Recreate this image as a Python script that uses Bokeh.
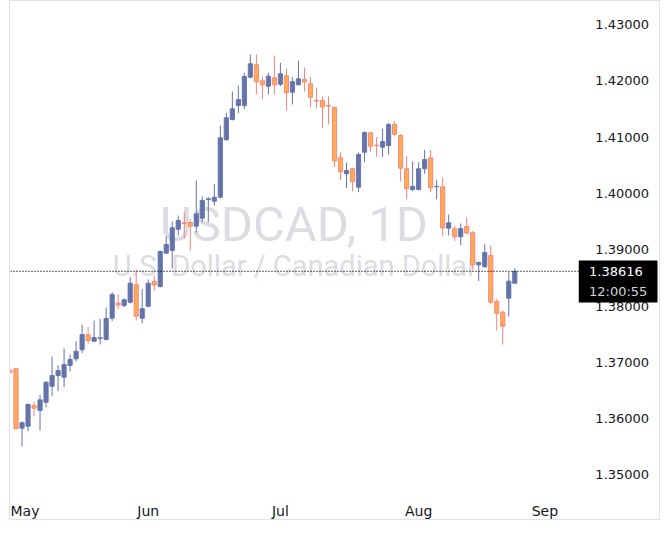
from bokeh.plotting import figure
from bokeh.models import ColumnDataSource, Label, BoxAnnotation, FixedTicker, PrintfTickFormatter
from bokeh.embed import file_html
from bokeh.resources import INLINE

# daily USDCAD candles, one per trading day
opens = [1.3686, 1.36884, 1.35828, 1.35863, 1.36231, 1.36142, 1.36290, 1.36574, 1.36764, 1.36734,
         1.36942, 1.37061, 1.37221, 1.37488, 1.37374, 1.37422, 1.37404, 1.37783, 1.38050, 1.38009,
         1.38068, 1.38379, 1.37783, 1.37995, 1.38436, 1.38347, 1.38939, 1.38987, 1.39365, 1.39479,
         1.39484, 1.39419, 1.39561, 1.39893, 1.39863, 1.39934, 1.40955, 1.41316, 1.41564, 1.41564,
         1.42068, 1.42288, 1.42004, 1.41908, 1.42057, 1.41943, 1.42092, 1.41801, 1.41932, 1.42027,
         1.41952, 1.41653, 1.41653, 1.41564, 1.41529, 1.40635, 1.40350, 1.40439, 1.40112, 1.40734,
         1.41079, 1.40859, 1.40823, 1.40853, 1.41227, 1.41031, 1.40439, 1.40071, 1.40071, 1.40439,
         1.40635, 1.40119, 1.40119, 1.39383, 1.39372, 1.39230, 1.39413, 1.39303, 1.38732, 1.38697,
         1.38898, 1.38080, 1.37890, 1.38139, 1.38405]
highs = [1.3690, 1.36890, 1.35947, 1.36267, 1.36302, 1.36421, 1.36658, 1.37102, 1.36948, 1.37244,
         1.37138, 1.37374, 1.37671, 1.37630, 1.37742, 1.37769, 1.37973, 1.38245, 1.38210, 1.38133,
         1.38512, 1.38649, 1.38299, 1.38471, 1.38539, 1.38987, 1.39236, 1.39502, 1.39609, 1.39668,
         1.39550, 1.40231, 1.39947, 1.39934, 1.40172, 1.41209, 1.41435, 1.41813, 1.41920, 1.42146,
         1.42471, 1.42471, 1.42080, 1.42146, 1.42453, 1.42324, 1.42217, 1.42068, 1.42364, 1.42240,
         1.42068, 1.41879, 1.41724, 1.41724, 1.41547, 1.40738, 1.40551, 1.40457, 1.40729, 1.41102,
         1.41090, 1.41001, 1.41150, 1.41257, 1.41285, 1.41058, 1.40663, 1.40569, 1.40556, 1.40777,
         1.40777, 1.40244, 1.40279, 1.39627, 1.39426, 1.39467, 1.39573, 1.39333, 1.38791, 1.39097,
         1.39076, 1.38128, 1.37920, 1.38601, 1.38672]
lows = [1.3679, 1.35810, 1.35502, 1.35774, 1.36036, 1.35787, 1.36201, 1.36396, 1.36485, 1.36556,
        1.36841, 1.37013, 1.37161, 1.37321, 1.37356, 1.37316, 1.37387, 1.37730, 1.37947, 1.37979,
        1.38044, 1.37742, 1.37694, 1.37982, 1.38276, 1.38329, 1.38924, 1.38667, 1.39253, 1.39191,
        1.38987, 1.39307, 1.39490, 1.39490, 1.39787, 1.39916, 1.40942, 1.41298, 1.41428, 1.41499,
        1.42050, 1.41760, 1.41671, 1.41760, 1.41760, 1.41908, 1.41476, 1.41582, 1.41925, 1.41813,
        1.41534, 1.41511, 1.41164, 1.41227, 1.40471, 1.40236, 1.40098, 1.40041, 1.40023, 1.40556,
        1.40747, 1.40658, 1.40646, 1.40693, 1.41022, 1.40219, 1.39893, 1.40041, 1.40053, 1.40350,
        1.40023, 1.39899, 1.39241, 1.39253, 1.39156, 1.39084, 1.39271, 1.38640, 1.38441, 1.38684,
        1.38027, 1.37564, 1.37316, 1.37813, 1.38405]
closes = [1.3682, 1.35817, 1.35924, 1.36249, 1.36183, 1.36332, 1.36645, 1.36764, 1.36853, 1.36960,
          1.37049, 1.37196, 1.37493, 1.37387, 1.37440, 1.37436, 1.37778, 1.38204, 1.38018, 1.38110,
          1.38405, 1.37819, 1.37952, 1.38405, 1.38373, 1.38969, 1.39093, 1.39390, 1.39520, 1.39467,
          1.39419, 1.39639, 1.39876, 1.39906, 1.39934, 1.40990, 1.41346, 1.41506, 1.41671, 1.42080,
          1.42306, 1.41986, 1.41932, 1.42085, 1.41932, 1.42128, 1.41790, 1.41991, 1.42039, 1.41982,
          1.41712, 1.41643, 1.41538, 1.41553, 1.40578, 1.40388, 1.40409, 1.40208, 1.40693, 1.41084,
          1.40841, 1.40848, 1.40924, 1.41227, 1.41054, 1.40450, 1.40084, 1.40124, 1.40439, 1.40604,
          1.40101, 1.40124, 1.39387, 1.39479, 1.39230, 1.39378, 1.39298, 1.38732, 1.38773, 1.38951,
          1.38068, 1.37872, 1.37641, 1.38441, 1.38616]

first_bar = -1
month_ticks = [1, 22, 44, 67, 88]
month_labels = ["May", "Jun", "Jul", "Aug", "Sep"]
price_ticks = [1.35, 1.36, 1.37, 1.38, 1.39, 1.40, 1.41, 1.42, 1.43]
countdown = "12:00:55"
symbol = "USDCAD, 1D"
description = "U.S. Dollar / Canadian Dollar"

UP = "#6474aa"
DOWN_FILL = "#ffaa55"
DOWN_LINE = "#f5837c"
TEXT = "#131722"
WATERMARK = "#dcdde2"

bars = list(range(first_bar, first_bar + len(opens)))
is_up = [c >= o for o, c in zip(opens, closes)]
last_price = closes[-1]

source = ColumnDataSource(dict(
    x=bars,
    high=highs,
    low=lows,
    top=[max(o, c) for o, c in zip(opens, closes)],
    bottom=[min(o, c) for o, c in zip(opens, closes)],
    fill=[UP if u else DOWN_FILL for u in is_up],
    line=[UP if u else DOWN_LINE for u in is_up],
))

# half-pixel offset keeps the 1px wicks and body edges crisp
x_start, x_end = -0.9167, 107.4167
scale_x = 93.75  # where the price scale begins

p = figure(
    width=651, height=520,
    x_range=(x_start, x_end), y_range=(1.347556, 1.434133),
    y_axis_location="right",
    toolbar_location=None, output_backend="svg",
    min_border_left=0, min_border_right=0, min_border_top=0, min_border_bottom=33,
)
p.styles = {"border": "1px solid #e0e3eb", "margin-left": "9px"}
p.background_fill_color = "white"
p.border_fill_color = "white"
p.outline_line_color = None
p.grid.visible = False

for ax in (p.xaxis, p.yaxis):
    ax.axis_line_color = None
    ax.major_tick_line_color = None
    ax.minor_tick_line_color = None
    ax.major_label_text_color = TEXT
    ax.major_label_text_font = "DejaVu Sans"

p.xaxis.ticker = FixedTicker(ticks=month_ticks)
p.xaxis.major_label_overrides = dict(zip(month_ticks, month_labels))
p.xaxis.major_label_text_font_size = "14px"
p.xaxis.major_label_standoff = 8

p.yaxis.ticker = FixedTicker(ticks=price_ticks)
p.yaxis.formatter = PrintfTickFormatter(format="%.5f")
p.yaxis.major_label_text_font_size = "13px"
p.yaxis.major_label_standoff = 10
p.yaxis.fixed_location = scale_x

# watermark behind the candles
p.add_layout(Label(x=46.25, y=1.39450, text=symbol, text_align="center",
                   text_baseline="alphabetic", text_font="Roboto", text_font_size="49px",
                   text_color=WATERMARK, level="underlay"))
p.add_layout(Label(x=46.4, y=1.38705, text=description, text_align="center",
                   text_baseline="alphabetic", text_font="Roboto", text_font_size="29px",
                   text_color=WATERMARK, level="underlay"))

p.segment(x0="x", y0="high", x1="x", y1="low", line_color="line", line_width=1, source=source)
p.vbar(x="x", width=0.7, top="top", bottom="bottom", fill_color="fill",
       line_color="line", line_width=0.9, source=source)

# dotted last-price line across the candle area
p.segment(x0=[x_start], y0=[last_price], x1=[scale_x], y1=[last_price],
          line_color="#000000", line_width=1.2, line_dash="1 2")

# last price / countdown badge on the price scale
p.add_layout(BoxAnnotation(left=scale_x - 0.1, right=106.75, top=1.38809, bottom=1.38062,
                           fill_color="black", fill_alpha=1.0, line_color=None))
p.add_layout(Label(x=scale_x + 1.6, y=last_price, text="%.5f" % last_price, text_align="left",
                   text_baseline="middle", text_font="DejaVu Sans", text_font_size="13px",
                   text_color="white"))
p.add_layout(Label(x=scale_x + 1.6, y=last_price - 0.00367, text=countdown, text_align="left",
                   text_baseline="middle", text_font="DejaVu Sans", text_font_size="13px",
                   text_color="#d1d4dc"))

open("out.html", "w").write(file_html(p, INLINE))
